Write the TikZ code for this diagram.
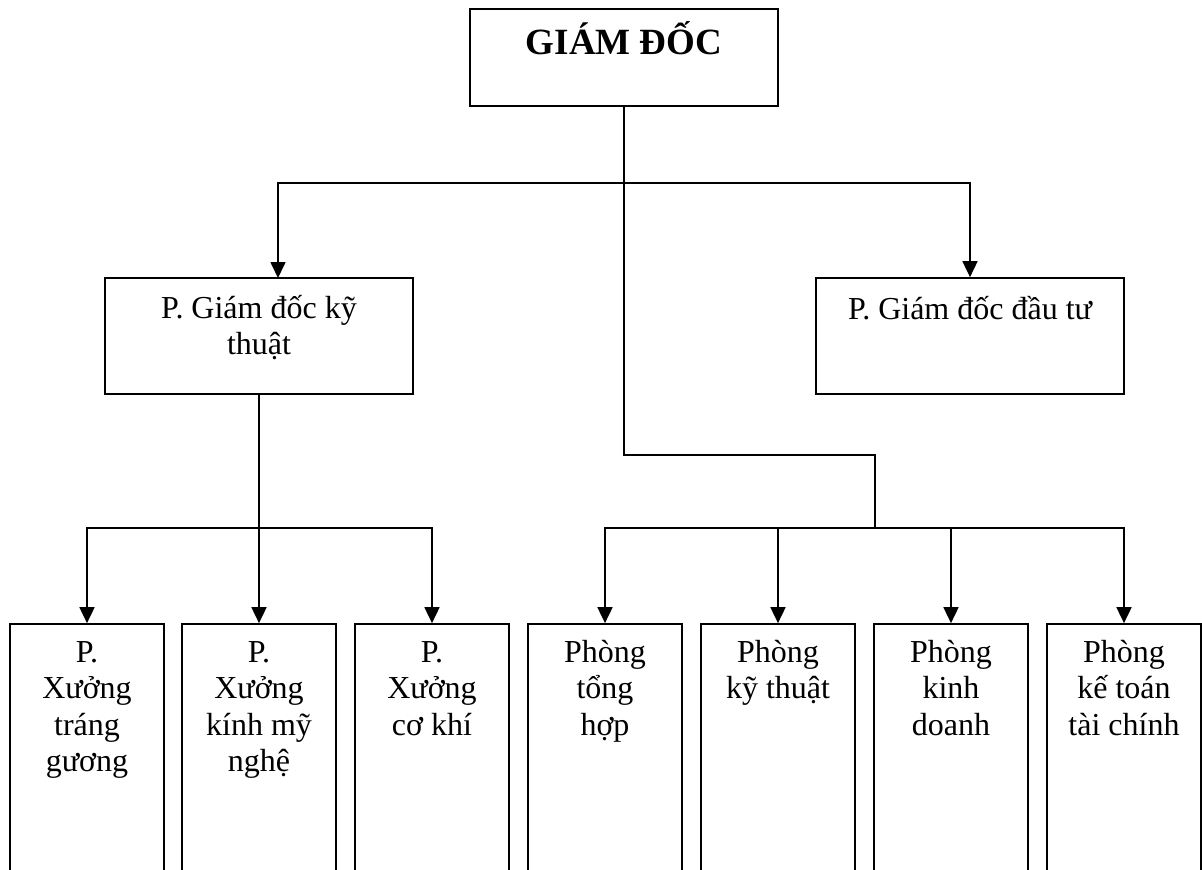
\documentclass[tikz,border=0pt]{standalone}
\usepackage{fontspec}
\setmainfont{Liberation Serif}
\usetikzlibrary{arrows.meta}
\tikzset{
  box/.style={draw, line width=1.7pt, rectangle, inner sep=0pt},
  topbox/.style={box, minimum width=308pt, minimum height=97pt},
  midbox/.style={box, minimum width=308pt, minimum height=116pt},
  unitbox/.style={box, minimum width=154pt, minimum height=256pt},
  lbl/.style={inner sep=0pt, align=center, font=\fontsize{32}{36.5}\selectfont},
  wire/.style={line width=1.7pt},
  arr/.style={wire, -{Triangle[length=16pt,width=15pt]}}
}
\begin{document}
\begin{tikzpicture}[x=1pt,y=-1pt]
\useasboundingbox (0,0) rectangle (1202,870);
\clip (0,0) rectangle (1202,870);

% director
\node[topbox] (gd) at (624,57.5) {};
\node[inner sep=0pt, anchor=base, font=\fontsize{37}{40}\selectfont\bfseries] (gdt) at ([yshift=-46pt]gd.north) {GIÁM ĐỐC};

% deputy directors
\node[midbox] (pkt) at (259,336) {};
\node[lbl, anchor=north] (pktt) at ([yshift=-15.5pt]pkt.north) {\strut P. Giám đốc kỹ\\thuật};
\node[midbox] (pdt) at (970,336) {};
\node[lbl, anchor=north] (pdtt) at ([yshift=-16.5pt]pdt.north) {\strut P. Giám đốc đầu tư};

% workshops and departments
\foreach \n/\x/\t in {
  b1/87/{P.\\Xưởng\\tráng\\gương},
  b2/259/{P.\\Xưởng\\kính mỹ\\nghệ},
  b3/432/{P.\\Xưởng\\cơ khí},
  b4/605/{Phòng\\tổng\\hợp},
  b5/778/{Phòng\\kỹ thuật},
  b6/951/{Phòng\\kinh\\doanh},
  b7/1124/{Phòng\\kế toán\\tài chính}} {
  \node[unitbox] (\n) at (\x,752) {};
  \node[lbl, anchor=north] (\n t) at ([yshift=-13.5pt]\n.north) {\strut\t};
}

% junctions
\coordinate (jt) at (624,183);
\coordinate (jr) at (875,455);
\coordinate (jb) at (875,528);
\coordinate (jl) at (259,528);
\coordinate (pktin) at (278,278);

% connectors
\draw[wire] (gd.south) |- (jr) -- (jb);
\draw[arr] (jt) -| (pktin);
\draw[arr] (jt) -| (pdt.north);
\draw[arr] (pkt.south) -- (b2.north);
\draw[arr] (jl) -| (b1.north);
\draw[arr] (jl) -| (b3.north);
\foreach \n in {b4,b5,b6,b7} \draw[arr] (jb) -| (\n.north);
\end{tikzpicture}
\end{document}
